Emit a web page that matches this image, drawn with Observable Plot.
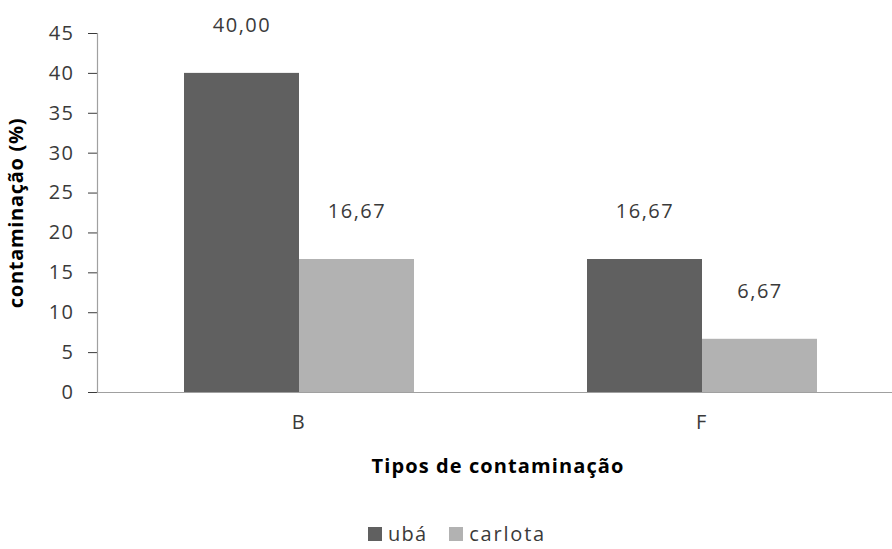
<!DOCTYPE html>
<html>
<head>
<meta charset="utf-8">
<script src="https://cdn.jsdelivr.net/npm/d3@7"></script>
<script src="https://cdn.jsdelivr.net/npm/@observablehq/plot@0.6"></script>
<style>
  html, body { margin: 0; padding: 0; background: #fff; }
  #wrap { position: relative; width: 892px; height: 549px; overflow: hidden; font-family: "Open Sans", sans-serif; color: #3a3a3a; }
  #xtitle { position: absolute; top: 452px; left: 498px; transform: translateX(-50%); font-weight: bold; font-size: 20px; letter-spacing: 1.1px; color: #000; white-space: nowrap; }
  #legend { position: absolute; top: 522px; left: 368px; height: 24px; font-size: 20px; line-height: 24px; white-space: nowrap; display: flex; align-items: center; color: #3a3a3a; }
  #legend .sw { display: inline-block; width: 14px; height: 14px; margin-right: 6px; }
  #legend .item { display: inline-flex; align-items: center; margin-right: 22px; }
  #legend .item:last-child { margin-right: 0; }
  #legend .t0 { letter-spacing: 1.2px; }
  #legend .t1 { letter-spacing: 1.8px; }
</style>
</head>
<body>
<div id="wrap">
  <div id="chart"></div>
  <div id="xtitle"></div>
  <div id="legend"></div>
</div>
<script>
const categories = ["B", "F"];
const seriesNames = ["ubá", "carlota"];
const ubaValues = [40.00, 16.67];
const carlotaValues = [16.67, 6.67];
const yTicks = [0, 5, 10, 15, 20, 25, 30, 35, 40, 45];
const seriesColors = ["#606060", "#b2b2b2"];
const xTitle = "Tipos de contaminação";
const yTitle = "contaminação (%)";

const data = categories.flatMap((c, i) => [
  {cat: c, s: seriesNames[0], v: ubaValues[i]},
  {cat: c, s: seriesNames[1], v: carlotaValues[i]}
]);
const fmt = v => v.toFixed(2).replace(".", ",");

const chart = Plot.plot({
  width: 892,
  height: 440,
  marginLeft: 97,
  marginRight: -11,
  marginTop: 33,
  marginBottom: 48,
  style: {fontFamily: "'Open Sans', sans-serif", fontSize: "20px", letterSpacing: "1.5px", color: "#3a3a3a", background: "#fff"},
  fx: {domain: categories, padding: 0, label: null, tickSize: 0, tickPadding: 22},
  x: {domain: seriesNames, paddingInner: 0, paddingOuter: 0.752, axis: null},
  y: {domain: [0, 45], ticks: yTicks, tickSize: 9, tickPadding: 14, label: yTitle, labelAnchor: "center", labelOffset: 89, labelArrow: "none"},
  color: {domain: seriesNames, range: seriesColors},
  marks: [
    Plot.barY(data, {fx: "cat", x: "s", y: "v", fill: "s"}),
    Plot.text(data, {fx: "cat", x: "s", y: "v", text: d => fmt(d.v), dy: -48, fill: "#3a3a3a", fontSize: 20}),
    Plot.ruleY([0], {stroke: "#a0a0a0", strokeWidth: 1.2}),
    Plot.frame({anchor: "left", facetAnchor: "left", stroke: "#a0a0a0", strokeWidth: 1.2})
  ]
});
document.getElementById("chart").appendChild(chart);

chart.querySelectorAll("[aria-label='y-axis tick']").forEach(g => g.setAttribute("stroke", "#a0a0a0"));
chart.querySelectorAll("[aria-label='y-axis label']").forEach(t => {
  t.setAttribute("font-weight", "bold");
  t.setAttribute("fill", "#000");
  t.setAttribute("font-size", "20");
  t.style.letterSpacing = "0.7px";
});

document.getElementById("xtitle").textContent = xTitle;
const leg = document.getElementById("legend");
seriesNames.forEach((s, i) => {
  const item = document.createElement("span");
  item.className = "item";
  const sw = document.createElement("span");
  sw.className = "sw";
  sw.style.background = seriesColors[i];
  item.appendChild(sw);
  const t = document.createElement("span");
  t.className = "t" + i;
  t.textContent = s;
  item.appendChild(t);
  leg.appendChild(item);
});
</script>
</body>
</html>
